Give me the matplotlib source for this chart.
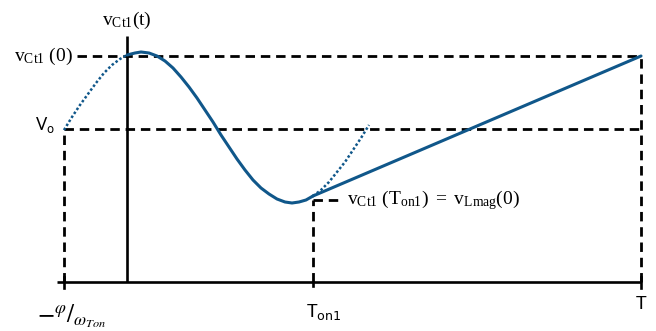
import numpy as np
import matplotlib
matplotlib.use("Agg")
import matplotlib.pyplot as plt

plt.rcParams['mathtext.fontset'] = 'custom'
plt.rcParams['mathtext.rm'] = 'Liberation Serif'
plt.rcParams['mathtext.it'] = 'Liberation Serif:italic'

# time axis markers and voltage levels
t_start = -63      # -phi / omega_Ton
t_on1 = 186
t_end = 514
v_c0 = 226         # vCt1(0)
v_o = 153          # Vo
v_ton = 82         # vCt1(Ton1)

# resonant part before t = 0 (dotted lead-in)
t_pre = [-63, -55, -47, -39, -31, -23, -15, -7, 0]
v_pre = [152, 165, 177, 188, 199, 209, 217, 223, 227]

# resonant part during Ton1
t_arc = [0, 8, 14, 22, 30, 38, 46, 54, 62, 70, 78, 86, 94, 102, 110,
         118, 126, 134, 142, 150, 158, 165, 172, 179, 186]
v_arc = [227, 229, 230, 229, 226, 221, 214, 205, 195, 184, 172, 160, 147,
         135, 123, 112, 102, 94, 88, 83, 80, 79, 80, 82, 86]

# what the resonance would have done after Ton1 (dotted)
t_ext = [186, 194, 202, 210, 218, 226, 234, 242]
v_ext = [86, 92, 100, 110, 120, 132, 144, 157]

# linear charge from Ton1 to T
t_ramp = [186, 514]
v_ramp = [86, 226]

blue = '#10578a'
dash = (0, (3.4, 2.1))

fig = plt.figure(figsize=(6.56, 3.31), dpi=100)
ax = fig.add_axes([0, 0, 1, 1])
ax.set_xlim(-127, 529)
ax.set_ylim(-49, 282)
ax.axis('off')

# axes
ax.plot([-70, t_end], [0, 0], color='black', lw=1.9, solid_capstyle='butt')
ax.plot([0, 0], [0, 246], color='black', lw=1.9, solid_capstyle='butt')
for tt in (t_start, t_end):
    ax.plot([tt, tt], [-6, 5], color='black', lw=1.9)
ax.plot([t_on1, t_on1], [-4, 0], color='black', lw=1.9)

# guide lines
ax.plot([-50, t_end], [v_c0, v_c0], color='black', lw=2.0, linestyle=dash)
ax.plot([t_start, t_end], [v_o, v_o], color='black', lw=2.0, linestyle=dash)
ax.plot([t_start, t_start], [0, v_o], color='black', lw=2.0, linestyle=dash)
ax.plot([t_end, t_end], [0, v_c0], color='black', lw=2.0, linestyle=dash)
ax.plot([t_on1, t_on1], [0, v_ton], color='black', lw=2.0, linestyle=dash)
ax.plot([t_on1, 211], [v_ton, v_ton], color='black', lw=2.0, linestyle=dash)

# waveform
ax.plot(t_pre, v_pre, color=blue, lw=1.8, linestyle=(0, (1, 0.9)))
ax.plot(t_ext, v_ext, color=blue, lw=1.8, linestyle=(0, (1, 0.9)))
ax.plot(t_arc, v_arc, color=blue, lw=2.2, solid_capstyle='round',
        solid_joinstyle='round')
ax.plot(t_ramp, v_ramp, color=blue, lw=2.2, solid_capstyle='round')

# labels
ax.text(0, 262, r'$\mathrm{v_{Ct1}(t)}$', fontsize=14, ha='center', va='center')
ax.text(-54, v_c0, r'$\mathrm{v_{Ct1}\ (0)}$', fontsize=14, ha='right', va='center')
ax.text(-72, v_o + 4, r'V$_\mathrm{o}$', fontsize=12, ha='right', va='center',
        family='Lato', math_fontfamily='dejavusans')
ax.text(220, v_ton, r'$\mathrm{v_{Ct1}\ (T_{on1})\ =\ v_{Lmag}(0)}$',
        fontsize=14, ha='left', va='center')
ax.text(t_on1 - 7, -30, r'T$_\mathrm{on1}$', fontsize=13, ha='left', va='center',
        family='Lato', math_fontfamily='dejavusans')
ax.text(t_end, -22, 'T', fontsize=13, ha='center', va='center', family='Lato')
ax.text(-55, -34, r'$-^{\varphi}/_{\omega_{Ton}}$', fontsize=18, ha='center',
        va='center', math_fontfamily='stix')

fig.savefig('out.png', dpi=100)
